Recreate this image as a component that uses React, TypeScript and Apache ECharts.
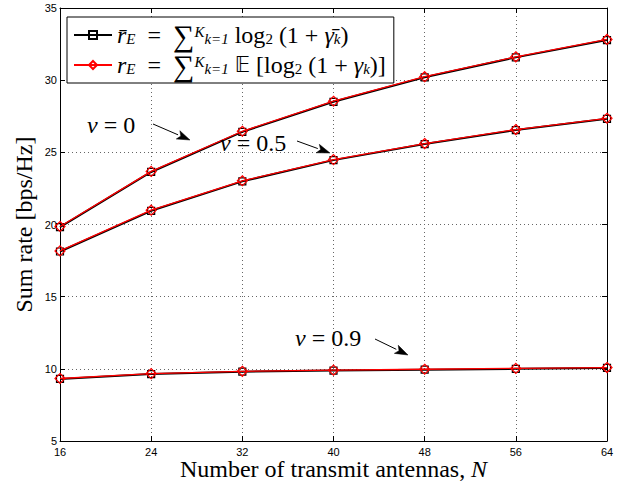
import React, { useEffect, useRef } from 'react';
import * as echarts from 'echarts';

// ---- data ----
const antennas = [16, 24, 32, 40, 48, 56, 64];
const boundNu0 = [19.82, 23.64, 26.42, 28.5, 30.2, 31.58, 32.78];
const exactNu0 = [19.86, 23.68, 26.46, 28.54, 30.24, 31.62, 32.82];
const boundNu05 = [18.13, 20.95, 22.99, 24.46, 25.57, 26.54, 27.32];
const exactNu05 = [18.17, 20.99, 23.03, 24.5, 25.61, 26.58, 27.36];
const boundNu09 = [9.3, 9.64, 9.8, 9.88, 9.94, 10.0, 10.06];
const exactNu09 = [9.33, 9.67, 9.83, 9.91, 9.97, 10.03, 10.09];
const xTickStep = 8;
const yMin = 5;
const yMax = 35;
const yTickStep = 5;

const SERIF = '"Liberation Serif", "Times New Roman", serif';
const SANS = '"Liberation Sans", Arial, sans-serif';

const toPairs = (vals: number[]) => antennas.map((n, i) => [n, vals[i]]);

function arrow(x1: number, y1: number, x2: number, y2: number) {
  const a = Math.atan2(y2 - y1, x2 - x1);
  const L = 13;
  const W = 4.5;
  const bx = x2 - L * Math.cos(a);
  const by = y2 - L * Math.sin(a);
  const px = -Math.sin(a) * W;
  const py = Math.cos(a) * W;
  return [
    {
      type: 'line',
      shape: { x1, y1, x2: bx, y2: by },
      style: { stroke: '#000', lineWidth: 1 },
      z: 100,
    },
    {
      type: 'polygon',
      shape: {
        points: [
          [x2, y2],
          [bx + px, by + py],
          [bx + 3 * Math.cos(a), by + 3 * Math.sin(a)],
          [bx - px, by - py],
        ],
      },
      style: { fill: '#000', stroke: '#000', lineWidth: 0.5 },
      z: 100,
    },
  ];
}

function label(text: string, x: number, y: number) {
  return {
    type: 'text',
    x,
    y,
    z: 100,
    style: {
      text,
      fill: '#000',
      font: `24px ${SERIF}`,
      verticalAlign: 'middle',
      align: 'left',
      rich: {
        i: { fontStyle: 'italic', fontSize: 24, fontFamily: SERIF },
        r: { fontSize: 24, fontFamily: SERIF },
      },
    },
  };
}

const black = (name: string, vals: number[]) => ({
  name,
  type: 'line',
  data: toPairs(vals),
  symbol: 'rect',
  symbolSize: 7,
  showSymbol: true,
  lineStyle: { color: '#000', width: 2 },
  itemStyle: { color: 'rgba(0,0,0,0)', borderColor: '#000', borderWidth: 1.2 },
  z: 2,
});
const red = (name: string, vals: number[]) => ({
  name,
  type: 'line',
  data: toPairs(vals),
  symbol: 'diamond',
  symbolSize: 10,
  showSymbol: true,
  lineStyle: { color: '#ff0000', width: 1.3 },
  itemStyle: { color: 'rgba(0,0,0,0)', borderColor: '#ff0000', borderWidth: 1.2 },
  z: 3,
});

const row1 =
  '{it|r\u0304}{sub|E}{rm|\u2002=\u2002}{sum|∑}{sup|K}{sub|k=1}{rm| log}{subrm|2}{rm| (1 + }{it|γ\u0304}{sub|k}{rm|)}';
const row2 =
  '{it|r}{sub|E}{rm|\u2002=\u2002}{sum|∑}{sup|K}{sub|k=1}{rm| }{bb|𝔼}{rm| [log}{subrm|2}{rm| (1 + }{it|γ}{sub|k}{rm|)]}';

export default function App() {
  const ref = useRef<HTMLDivElement>(null);
  useEffect(() => {
    if (!ref.current) return;
    const chart = echarts.init(ref.current, null, { renderer: 'svg' });
    const tickInside = { inside: true, length: 5, lineStyle: { color: '#000' } };
    const axisLine = { show: true, onZero: false, lineStyle: { color: '#000', width: 1 } };
    const split = { show: true, lineStyle: { color: '#666', type: [1, 3], width: 1 } };
    chart.setOption({
      animation: false,
      backgroundColor: '#fff',
      grid: { left: 60, right: 26, top: 8, bottom: 42, containLabel: false, outerBoundsMode: 'none' },
      legend: {
        data: ['bound', 'exact'],
        orient: 'vertical',
        left: 67,
        top: 17,
        padding: [3, 8, 3, 6],
        itemGap: 0,
        itemWidth: 38,
        itemHeight: 10,
        borderColor: '#000',
        borderWidth: 1,
        backgroundColor: '#fff',
        formatter: (name: string) => (name === 'bound' ? row1 : row2),
        textStyle: {
          color: '#000',
          rich: {
            it: { fontStyle: 'italic', fontSize: 24, fontFamily: SERIF, lineHeight: 22 },
            rm: { fontSize: 24, fontFamily: SERIF, lineHeight: 22 },
            sum: { fontSize: 30, fontFamily: SERIF, lineHeight: 22 },
            bb: { fontSize: 21, fontFamily: '"DejaVu Sans", sans-serif', lineHeight: 22 },
            sub: { fontStyle: 'italic', fontSize: 15, fontFamily: SERIF, lineHeight: 12, verticalAlign: 'bottom' },
            subrm: { fontSize: 15, fontFamily: SERIF, lineHeight: 12, verticalAlign: 'bottom' },
            sup: { fontStyle: 'italic', fontSize: 15, fontFamily: SERIF, lineHeight: 12, verticalAlign: 'top' },
          },
        },
      },
      xAxis: [
        {
          type: 'value',
          min: antennas[0],
          max: antennas[antennas.length - 1],
          interval: xTickStep,
          position: 'bottom',
          axisLine,
          axisTick: tickInside,
          splitLine: split,
          axisLabel: { color: '#000', fontSize: 11, lineHeight: 11, fontFamily: SANS, margin: 5 },
          name: 'Number of transmit antennas, {i|N}',
          nameLocation: 'middle',
          nameGap: 17,
          nameMoveOverlap: false,
          nameTextStyle: {
            color: '#000',
            fontSize: 24,
            lineHeight: 22,
            fontFamily: SERIF,
            rich: { i: { fontStyle: 'italic', fontSize: 24, lineHeight: 22, fontFamily: SERIF } },
          },
        },
        {
          type: 'value',
          min: antennas[0],
          max: antennas[antennas.length - 1],
          interval: xTickStep,
          position: 'top',
          axisLine,
          axisTick: tickInside,
          splitLine: { show: false },
          axisLabel: { show: false },
        },
      ],
      yAxis: [
        {
          type: 'value',
          min: yMin,
          max: yMax,
          interval: yTickStep,
          position: 'left',
          axisLine,
          axisTick: tickInside,
          splitLine: split,
          axisLabel: { color: '#000', fontSize: 11, fontFamily: SANS, margin: 3 },
          name: 'Sum rate [bps/Hz]',
          nameLocation: 'middle',
          nameGap: 24,
          nameMoveOverlap: false,
          nameTextStyle: { color: '#000', fontSize: 24, lineHeight: 24, fontFamily: SERIF },
        },
        {
          type: 'value',
          min: yMin,
          max: yMax,
          interval: yTickStep,
          position: 'right',
          axisLine,
          axisTick: tickInside,
          splitLine: { show: false },
          axisLabel: { show: false },
        },
      ],
      series: [
        black('bound', boundNu0),
        black('bound', boundNu05),
        black('bound', boundNu09),
        red('exact', exactNu0),
        red('exact', exactNu05),
        red('exact', exactNu09),
      ],
      graphic: [
        label('{i|ν}{r| = 0}', 87, 125),
        ...arrow(153, 124, 190, 140),
        label('{i|ν}{r| = 0.5}', 220, 143),
        ...arrow(297, 141, 330, 153),
        label('{i|ν}{r| = 0.9}', 295, 338),
        ...arrow(375, 339, 408, 355),
      ],
    });
    return () => chart.dispose();
  }, []);
  return (
    <div
      ref={ref}
      style={{ position: 'absolute', left: 0, top: 0, width: 633, height: 483 }}
    />
  );
}
